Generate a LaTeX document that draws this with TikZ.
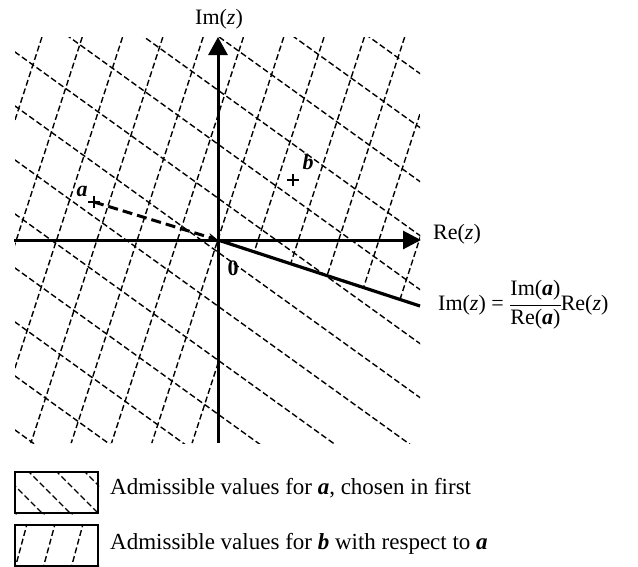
\documentclass[tikz,border=0pt]{standalone}
\usepackage{fontspec}
\setmainfont{Liberation Serif}
\usetikzlibrary{arrows.meta}
\begin{document}
\begin{tikzpicture}[x=1pt,y=-1pt,
  hatch/.style={line width=1.4pt, dash pattern=on 6pt off 3pt},
  axisline/.style={line width=3pt},
  lbl/.style={inner sep=0pt, font=\fontsize{22}{26}\selectfont},
  leg/.style={inner sep=0pt, anchor=base west, font=\fontsize{23}{27}\selectfont},
  legbox/.style={draw, line width=2pt, inner sep=0pt, minimum width=83pt, minimum height=41pt, anchor=north west},
  cross/.style={line width=1.2pt}]
\useasboundingbox (0,0) rectangle (638,566);

% hatching for a (whole plane)
\begin{scope}
  \clip (15,37) rectangle (420,443);
  \foreach \k in {-6,...,8} {
    \draw[hatch] (0,{41.2+54*\k}) -- (440,{358+54*\k});
  }
\end{scope}
% hatching for b
\begin{scope}
  \clip (15,37) -- (420,37) -- (420,305) -- (218,240) -- (218,443) -- (15,443) -- cycle;
  \foreach \k in {-1,...,13} {
    \draw[hatch] ({47.5+40.3*\k},20) -- ({-95.5+40.3*\k},460);
  }
\end{scope}

% coordinates
\coordinate (O) at (218,240);
\coordinate (xL) at (14,240);
\coordinate (xR) at (421,240);
\coordinate (yB) at (218,443);
\coordinate (yT) at (218,37);
\coordinate (lineEnd) at (420,306);
\coordinate (pa) at (94,202);
\coordinate (pb) at (293,180);

% axes
\draw[axisline, -{Triangle[length=18pt,width=18pt]}] (xL) -- (xR);
\draw[axisline, -{Triangle[length=18pt,width=19pt]}] (yB) -- (yT);
% boundary line
\draw[line width=3.2pt] (O) -- (lineEnd);
% dashed direction of a
\draw[line width=3pt, dash pattern=on 10pt off 5pt, -{Stealth[length=10pt,width=8pt]}] (pa) -- (O);

% crosses
\draw[cross] (pa) ++(-6,0) -- ++(12,0);
\draw[cross] (pa) ++(0,-6) -- ++(0,12);
\draw[cross] (pb) ++(-6,0) -- ++(12,0);
\draw[cross] (pb) ++(0,-6) -- ++(0,12);

% labels
\node[lbl] (imz) at (219,19) {Im(\textit{z})};
\node[lbl, anchor=base west] (rez) at (433,239) {Re(\textit{z})};
\node[lbl] (zero) at (233,268) {\textbf{0}};
\node[lbl] (la) at (82,191) {\textbf{\textit{a}}};
\node[lbl] (lb) at (308,162) {\textbf{\textit{b}}};
\node[lbl, anchor=base west] (eq) at (438,310) {Im(\textit{z}) = $\displaystyle\frac{\hbox{Im(\textbf{\textit{a}})}}{\hbox{Re(\textbf{\textit{a}})}}$\hspace{-1pt}Re(\textit{z})};

% legend
\node[legbox] (box1) at (14,471) {};
\node[legbox] (box2) at (14,524) {};
\begin{scope}
  \clip (box1.north west) rectangle (box1.south east);
  \foreach \k in {-3,...,3} {
    \draw[hatch] ({8+28*\k},451) -- ({98+28*\k},541);
  }
\end{scope}
\begin{scope}
  \clip (box2.north west) rectangle (box2.south east);
  \foreach \k in {-1,...,3} {
    \draw[hatch] ({32.4+28*\k},504) -- ({10.8+28*\k},584);
  }
\end{scope}
\node[legbox] at (14,471) {};
\node[legbox] at (14,524) {};
\node[leg] (t1) at (110,494) {Admissible values for \textbf{\textit{a}}, chosen in first};
\node[leg] (t2) at (110,549) {Admissible values for \textbf{\textit{b}} with respect to \textbf{\textit{a}}};
\end{tikzpicture}
\end{document}
